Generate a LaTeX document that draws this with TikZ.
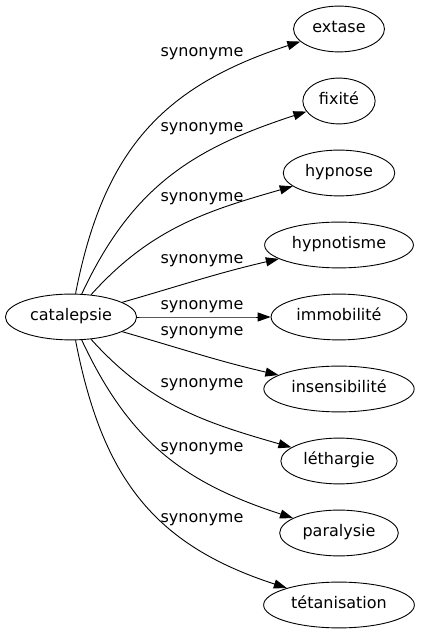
\documentclass[tikz,border=0pt]{standalone}
\usepackage{fontspec}
\setmainfont{DejaVu Sans}
\usetikzlibrary{shapes.geometric}
\usetikzlibrary{arrows.meta}
\tikzset{
  word node/.style={ellipse,draw,inner xsep=5.5pt,inner ysep=8.2pt,text height=12pt,text depth=4pt},
  syn label/.style={inner sep=1pt}
}
\begin{document}
\begin{tikzpicture}[->,>={Triangle[length=13pt,width=9pt]},line width=0.9pt,x=1pt,y=1pt,
         font=\fontsize{16}{19}\selectfont]
  \useasboundingbox (0,0) rectangle (422,635);
		    \node [word node] (catalepsie) at (71,318) {catalepsie};
		    \node [word node] (extase) at (339,606) {extase};
		    \node [word node] (fixite) at (339,534) {fixité};
		    \node [word node] (hypnose) at (339,462) {hypnose};
		    \node [word node] (hypnotisme) at (339,390) {hypnotisme};
		    \node [word node] (immobilite) at (339,318) {immobilité};
		    \node [word node] (insensibilite) at (339,246) {insensibilité};
		    \node [word node] (lethargie) at (339,174) {léthargie};
		    \node [word node] (paralysie) at (339,102) {paralysie};
		    \node [word node] (tetanisation) at (339,30) {tétanisation};
		    \node [syn label] (s1) at (202,581) {synonyme};
		    \node [syn label] (s2) at (202,506) {synonyme};
		    \node [syn label] (s3) at (202,436) {synonyme};
		    \node [syn label] (s4) at (202,374) {synonyme};
		    \node [syn label] (s5) at (202,328) {synonyme};
		    \node [syn label] (s6) at (202,302) {synonyme};
		    \node [syn label] (s7) at (202,250) {synonyme};
		    \node [syn label] (s8) at (202,186) {synonyme};
		    \node [syn label] (s9) at (202,115) {synonyme};
		    \draw (catalepsie) to[out=79,in=-162,looseness=1.1] (extase);
		    \draw (catalepsie) to[out=65,in=-162,looseness=1.05] (fixite);
		    \draw (catalepsie) to[out=48,in=-164] (hypnose);
		    \draw (catalepsie) to[out=16,in=-167] (hypnotisme);
		    \draw (catalepsie) to[out=0,in=180] (immobilite);
		    \draw (catalepsie) to[out=-16,in=167] (insensibilite);
		    \draw (catalepsie) to[out=-48,in=164] (lethargie);
		    \draw (catalepsie) to[out=-65,in=162,looseness=1.05] (paralysie);
		    \draw (catalepsie) to[out=-79,in=162,looseness=1.1] (tetanisation);
\end{tikzpicture}
\end{document}
